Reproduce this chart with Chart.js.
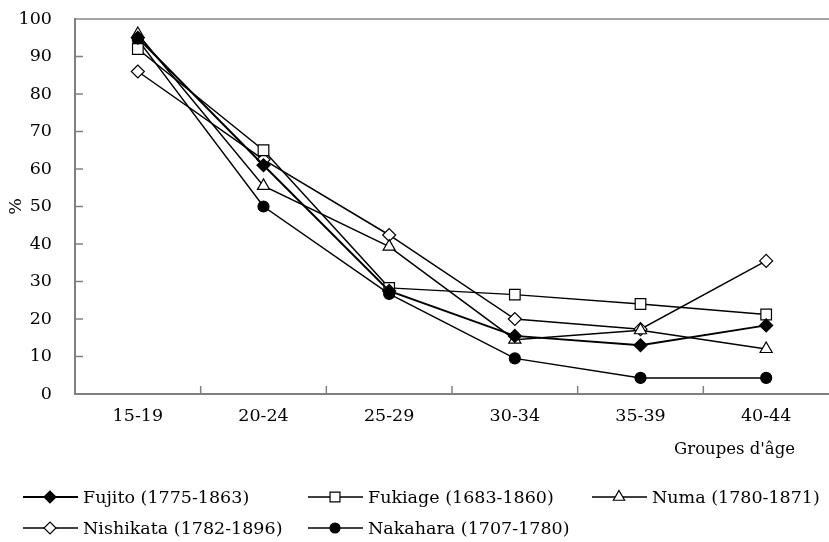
<!DOCTYPE html>
<html>
<head>
<meta charset="utf-8">
<script src="https://cdn.jsdelivr.net/npm/chart.js@4.4.0/dist/chart.umd.min.js"></script>
<style>
  html, body { margin: 0; padding: 0; background: #fff; }
  #wrap { width: 829px; height: 542px; position: relative; }
</style>
</head>
<body>
<div id="wrap"><canvas id="c"></canvas></div>
<script>
const categories = ['15-19', '20-24', '25-29', '30-34', '35-39', '40-44'];
const fujito    = [95, 61, 27.5, 15.5, 13, 18.3];
const fukiage   = [92, 65, 28.3, 26.5, 24, 21.2];
const numa      = [96, 55.5, 39.3, 14.5, 17, 12];
const nishikata = [86, 62.5, 42.4, 20, 17.3, 35.5];
const nakahara  = [94.5, 50, 26.7, 9.5, 4.3, 4.3];
const seriesLabels = ['Fujito (1775-1863)', 'Fukiage (1683-1860)', 'Numa (1780-1871)', 'Nishikata (1782-1896)', 'Nakahara (1707-1780)'];
const yTickValues = [0, 10, 20, 30, 40, 50, 60, 70, 80, 90, 100];
const yTitle = '%';
const xTitle = "Groupes d'âge";

const FONT = "'DejaVu Serif', serif";
const FS = 17.5;

function ds(label, data, style, fill, radius, lw) {
  return {
    label, data,
    borderColor: '#000', borderWidth: lw,
    pointStyle: style, pointRadius: radius, pointHoverRadius: radius,
    pointBackgroundColor: fill, pointBorderColor: '#000', pointBorderWidth: 1.2,
    tension: 0, fill: false
  };
}

const legendLayout = [
  { x: 23, y: 497 }, { x: 308, y: 497 }, { x: 592, y: 497 },
  { x: 23, y: 528 }, { x: 308, y: 528 }
];

const customPlugin = {
  id: 'custom',
  afterDraw(chart) {
    const ctx = chart.ctx;
    const xs = chart.scales.x, ys = chart.scales.y;
    const area = chart.chartArea;
    ctx.save();
    ctx.strokeStyle = '#808080';
    ctx.lineWidth = 1.5;
    ys.ticks.forEach(t => {
      if (t.value === 0 || t.value === 100) return;
      const y = ys.getPixelForValue(t.value);
      ctx.beginPath(); ctx.moveTo(area.left, y); ctx.lineTo(area.left + 8, y); ctx.stroke();
    });
    for (let i = 0; i < categories.length - 1; i++) {
      const x = (xs.getPixelForValue(i) + xs.getPixelForValue(i + 1)) / 2;
      ctx.beginPath(); ctx.moveTo(x, area.bottom); ctx.lineTo(x, area.bottom - 8); ctx.stroke();
    }
    ctx.fillStyle = '#000';
    ctx.font = "16.5px " + FONT;
    ctx.textAlign = 'right';
    ctx.textBaseline = 'middle';
    ctx.fillText(xTitle, 795, 450);
    ctx.font = FS + "px " + FONT;
    ctx.textAlign = 'left';
    chart.data.datasets.forEach((d, i) => {
      const pos = legendLayout[i];
      ctx.strokeStyle = '#000';
      ctx.lineWidth = d.borderWidth;
      ctx.beginPath(); ctx.moveTo(pos.x, pos.y); ctx.lineTo(pos.x + 55, pos.y); ctx.stroke();
      ctx.fillStyle = d.pointBackgroundColor;
      ctx.strokeStyle = '#000';
      ctx.lineWidth = 1.2;
      Chart.helpers.drawPoint(ctx, { pointStyle: d.pointStyle, radius: d.pointRadius - 0.5, rotation: 0, borderWidth: 1.2 }, pos.x + 27, pos.y);
      ctx.fillStyle = '#000';
      ctx.fillText(d.label, pos.x + 60, pos.y + 1);
    });
    ctx.restore();
  }
};

function zeroPad(scale) {
  scale.paddingLeft = 0; scale.paddingRight = 0;
  scale.paddingTop = 0; scale.paddingBottom = 0;
}

new Chart(document.getElementById('c'), {
  type: 'line',
  data: {
    labels: categories,
    datasets: [
      ds(seriesLabels[0], fujito, 'rectRot', '#000', 6.5, 2),
      ds(seriesLabels[1], fukiage, 'rect', '#fff', 7.5, 1.5),
      ds(seriesLabels[2], numa, 'triangle', '#fff', 7, 1.5),
      ds(seriesLabels[3], nishikata, 'rectRot', '#fff', 6.5, 1.5),
      ds(seriesLabels[4], nakahara, 'circle', '#000', 5.5, 1.5)
    ]
  },
  options: {
    responsive: true,
    maintainAspectRatio: false,
    animation: false,
    layout: { autoPadding: false, padding: { top: 19, right: 0, left: 0, bottom: 0 } },
    plugins: { legend: { display: false }, tooltip: { enabled: false } },
    scales: {
      x: {
        offset: true,
        grid: { display: false, drawTicks: false },
        border: { display: true, color: '#808080', width: 2 },
        ticks: { color: '#000', font: { family: FONT, size: FS }, padding: 12, maxRotation: 0 },
        afterFit(scale) { scale.height = 148; zeroPad(scale); }
      },
      y: {
        min: 0, max: 100,
        afterBuildTicks(scale) { scale.ticks = yTickValues.map(v => ({ value: v })); },
        grid: {
          drawTicks: false,
          color: c => (c.tick && c.tick.value === 100) ? '#a6a6a6' : 'rgba(0,0,0,0)',
          lineWidth: 2
        },
        border: { display: true, color: '#808080', width: 2 },
        ticks: { color: '#000', font: { family: FONT, size: FS }, padding: 23 },
        title: { display: true, text: yTitle, color: '#000', font: { family: FONT, size: FS }, padding: { top: 6, bottom: 0 } },
        afterFit(scale) { scale.width = 75; zeroPad(scale); }
      }
    }
  },
  plugins: [customPlugin]
});
</script>
</body>
</html>
